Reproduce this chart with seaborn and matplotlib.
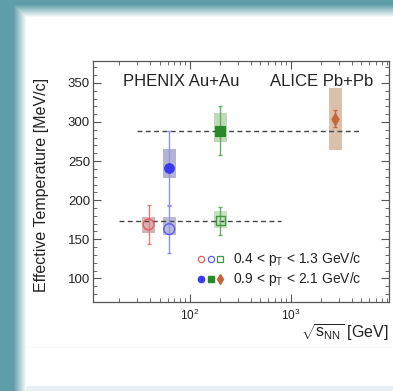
import numpy as np
import pandas as pd
import matplotlib
matplotlib.use("Agg")
import matplotlib.pyplot as plt
from matplotlib.ticker import FixedLocator, LogLocator, NullFormatter, MultipleLocator
import seaborn as sns

# ---------------- data ----------------
labels      = ["PHENIX 39 low", "PHENIX 62 low", "PHENIX 62 high", "PHENIX 200 low", "PHENIX 200 high", "ALICE 2760 high"]
energy      = [39.0, 62.4, 62.4, 200.0, 200.0, 2760.0]
temperature = [169.0, 163.0, 241.0, 173.5, 289.0, 304.0]
stat_err    = [25.0, 31.0, 48.0, 18.0, 31.0, 11.0]
sys_lo      = [158.0, 155.0, 229.0, 164.0, 274.0, 264.0]
sys_hi      = [179.0, 178.0, 265.0, 186.0, 312.0, 344.0]
pt_bin      = ["low", "low", "high", "low", "high", "high"]
avg_low     = 174.0
avg_high    = 289.0
avg_low_span  = [20.0, 800.0]
avg_high_span = [30.0, 5000.0]

df = pd.DataFrame(dict(label=labels, energy=energy, temp=temperature, stat=stat_err,
                       slo=sys_lo, shi=sys_hi, pt=pt_bin))

# styles
mk_color  = ["#e85a5a", "#5a5af0", "#3a3af0", "#3f9a3f", "#2a8a2a", "#c8643a"]
bar_color = ["#e87a7a", "#9090f0", "#9090f0", "#60b060", "#60b060", "#c8643a"]
box_color = ["#c9aaab", "#b0b0d0", "#a8a8cc", "#bcdcb4", "#b4d4ac", "#d4b69e"]
markers   = ["o", "o", "o", "s", "s", "d"]
msizes    = [60, 60, 48, 42, 48, 38]
filled    = [False, False, True, False, True, True]

sns.set_theme(style="ticks")
plt.rcParams["font.family"] = ["Liberation Sans", "DejaVu Sans"]
plt.rcParams["mathtext.fontset"] = "custom"
plt.rcParams["mathtext.rm"] = "Liberation Sans"
plt.rcParams["mathtext.it"] = "Liberation Sans"
plt.rcParams["mathtext.bf"] = "Liberation Sans:bold"

W, H = 393, 391
fig = plt.figure(figsize=(W / 100, H / 100), dpi=100)

# ---------------- background frame ----------------
bg = fig.add_axes([0, 0, 1, 1], zorder=-10)
bg.set_axis_off()
teal = np.array([0.37, 0.62, 0.66])
xs = np.arange(W)[None, :]
ys = np.arange(H)[:, None]
tx = np.clip((xs - 13) / 13.0, 0, 1)
ty = np.clip((ys - 4) / 13.0, 0, 1)
t = np.minimum(tx * np.ones((H, 1)), ty * np.ones((1, W)))
img = teal[None, None, :] * (1 - t[..., None]) + 1.0 * t[..., None]
img[386:, 26:, :] = np.array([0.91, 0.94, 0.95])
img[347, 26:, :] = np.array([0.96, 0.97, 0.975])
bg.imshow(img, extent=[0, 1, 0, 1], aspect="auto", interpolation="nearest")
bg.set_xlim(0, 1); bg.set_ylim(0, 1)

# ---------------- main axes ----------------
ax = fig.add_axes([0.236, 0.228, 0.754, 0.616])
ax.set_facecolor("white")
ax.set_xscale("log")
ax.set_xlim(10.9, 9400)
ax.set_ylim(70, 378)

half = 10 ** 0.066
for i, r in df.iterrows():
    ax.fill_between([r["energy"] / half, r["energy"] * half], r["slo"], r["shi"],
                    color=box_color[i], alpha=0.85, lw=0, zorder=1)

ax.hlines(avg_low, *avg_low_span, colors="#444444", linestyles=(0, (3.5, 2.5)), lw=1.0, zorder=2)
ax.hlines(avg_high, *avg_high_span, colors="#444444", linestyles=(0, (3.5, 2.5)), lw=1.0, zorder=2)

for i, r in df.iterrows():
    ax.errorbar([r["energy"]], [r["temp"]], yerr=[r["stat"]], fmt="none", ecolor=bar_color[i],
                elinewidth=1.0, capsize=1.5, capthick=1.0, zorder=3)

for i, r in df.iterrows():
    sub = df.iloc[[i]]
    if filled[i]:
        sns.scatterplot(data=sub, x="energy", y="temp", marker=markers[i], s=msizes[i],
                        color=mk_color[i], edgecolor=mk_color[i], linewidth=0.8,
                        ax=ax, zorder=4, legend=False)
    else:
        sns.scatterplot(data=sub, x="energy", y="temp", marker=markers[i], s=msizes[i],
                        color=mk_color[i], facecolor="none", edgecolor=mk_color[i],
                        linewidth=1.0, ax=ax, zorder=4, legend=False)

# ticks
ax.yaxis.set_major_locator(FixedLocator([100, 150, 200, 250, 300, 350]))
ax.yaxis.set_minor_locator(MultipleLocator(10))
ax.xaxis.set_major_locator(LogLocator(base=10, numticks=10))
ax.xaxis.set_minor_locator(LogLocator(base=10, subs=np.arange(2, 10), numticks=20))
ax.xaxis.set_minor_formatter(NullFormatter())
ax.tick_params(which="both", direction="in", top=True, right=True, colors="#555555",
               labelcolor="#222222")
ax.tick_params(which="major", length=6, width=0.8)
ax.tick_params(which="minor", length=3, width=0.6)
ax.tick_params(axis="y", labelsize=9.5, pad=2)
ax.tick_params(axis="x", labelsize=8.5, pad=4)
for s in ax.spines.values():
    s.set_color("#555555"); s.set_linewidth(0.9)

ax.set_xlabel(r"$\sqrt{s_{NN}}$ [GeV]", fontsize=11.5, color="#222222")
ax.xaxis.set_label_coords(1.0, -0.085)
ax.xaxis.label.set_horizontalalignment("right")
ax.set_ylabel("Effective Temperature [MeV/c]", fontsize=11.5, color="#222222")
ax.yaxis.set_label_coords(-0.147, 0.485)

ax.text(0.3, 0.915, "PHENIX Au+Au", transform=ax.transAxes, ha="center", va="center",
        fontsize=12, color="#222222")
ax.text(0.774, 0.915, "ALICE Pb+Pb", transform=ax.transAxes, ha="center", va="center",
        fontsize=12, color="#222222")

# legend (manual)
lx = [0.365, 0.398, 0.430]
row_low = [(0, "o"), (1, "o"), (3, "s")]
row_high = [(2, "o"), (4, "s"), (5, "d")]
for xx, (i, m) in zip(lx, row_low):
    ax.plot([xx], [0.178], marker=m, ms=4.5, mfc="none", mec=mk_color[i], mew=0.9,
            transform=ax.transAxes, ls="none")
for xx, (i, m) in zip(lx, row_high):
    ax.plot([xx], [0.095], marker=m, ms=4.5 if m != "d" else 5, mfc=mk_color[i], mec=mk_color[i],
            transform=ax.transAxes, ls="none")
ax.text(0.473, 0.178, r"0.4 < p$_{\rm T}$ < 1.3 GeV/c", transform=ax.transAxes,
        va="center", ha="left", fontsize=10, color="#222222")
ax.text(0.473, 0.095, r"0.9 < p$_{\rm T}$ < 2.1 GeV/c", transform=ax.transAxes,
        va="center", ha="left", fontsize=10, color="#222222")

fig.savefig("out.png", dpi=100)
